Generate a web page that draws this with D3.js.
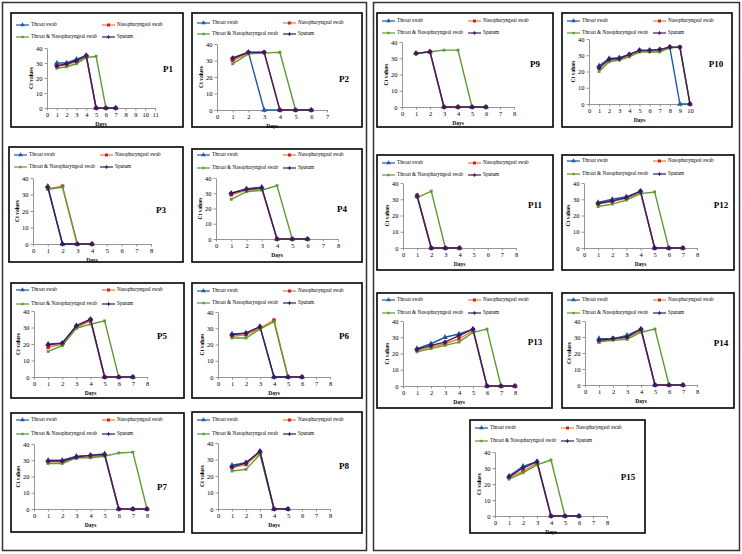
<!DOCTYPE html>
<html><head><meta charset="utf-8">
<script src="https://cdn.jsdelivr.net/npm/d3@7"></script>
<style>body{margin:0;background:#fff}svg{display:block}</style>
</head><body>
<script>
// ---------- DATA ----------
const seriesNames = ["Throat swab","Nasopharyngeal swab","Throat & Nasopharyngeal swab","Sputum"];
const panelNames = ["P1","P2","P3","P4","P5","P6","P7","P8","P9","P10","P11","P12","P13","P14","P15"];
const xMaxDays = [11,7,8,8,8,8,8,8,8,10,8,8,8,8,8];
const yTicks = [0,10,20,30,40];
// Ct values per panel, day 1..n
const throatSwab = [
  [30,30,32.5,35,0,0,0],
  [31,35,0,0,0,0],
  [35,0,0,0],
  [30,33,34,0,0,0],
  [20,20.5,31,35,0,0,0],
  [26.5,27,31,0,0,0],
  [30,30,32.5,33,34,0,0,0],
  [26.5,28,35,0,0],
  [33,34,0,0,0,0],
  [23.5,28,28.5,30.5,33,33,33.5,35,0,0],
  [32,0,0,0],
  [28,30,31.5,35,0,0,0],
  [23,26,30,32,35,0,0,0],
  [29,29,31,35,0,0,0],
  [25,31,34,0,0,0]
];
const nasoSwab = [
  [28,29,31,34,0,0,0],
  [30,34.5,35,0,0,0],
  [33.5,35,0,0],
  [29,32,33,0,0,0],
  [18,20,30,34,0,0,0],
  [25,26,30,35,0,0],
  [29,29,31.5,32,33,0,0,0],
  [25,27,34,0,0],
  [33,34,0,0,0,0],
  [22,27,27.5,30,32.5,32.5,33,35,35,0],
  [32.5,0,0,0],
  [27,28.5,30.5,34,0,0,0],
  [22,24,26,29,34,0,0,0],
  [27,29,29.5,34,0,0,0],
  [24,28,33,0,0,0]
];
const throatNasoSwab = [
  [26.5,27.5,29.5,33.5,34.5,0,0],
  [28,34,34.5,35,0,0],
  [33,34.5,0,0],
  [26,31,32,35,0,0],
  [15.5,19,29.5,32,34,0,0],
  [24,24,29.5,34,0,0],
  [28,28,31.5,31.5,32.5,34.5,35,0],
  [23,24,33,0,0],
  [33,34,35,35,0,0],
  [20,26,27,29,32,32,32,34.5,35,0],
  [31,35,0,0],
  [25.5,27,29.5,33.5,34.5,0,0],
  [21,23,25,27,33,35,0,0],
  [27,28,28.5,33,35,0,0],
  [23,27,32,35,0,0]
];
const sputum = [
  [28,29.5,31.5,35,0,0,0],
  [31.5,35,35,0,0,0],
  [34.5,0,0,0],
  [30,32.5,33.5,0,0,0],
  [19.5,20.5,31,35,0,0,0],
  [26,27,31,0,0,0],
  [29.5,29.5,32,33,33.5,0,0,0],
  [25.5,28,35,0,0],
  [33,34,0,0,0,0],
  [22.5,27.5,28,30.5,33,33,33.5,35,35,0],
  [32,0,0,0],
  [27.5,29,31,35,0,0,0],
  [22.5,25,27,31,35,0,0,0],
  [28,29,30,35,0,0,0],
  [24.5,30,34,0,0,0]
];
const allSeries = [throatSwab, nasoSwab, throatNasoSwab, sputum];

// ---------- LAYOUT ----------
// box [x,y,w,h], plot [x0,x1,yTop,yBot], label [x,y], legend rows [y1,y2]
const layout = [
  {box:[11,13,172,114], plot:[47,155,48,108], lab:[168,70], leg:[25,37]},
  {box:[192,13,170,114], plot:[217,327,44,110], lab:[344,80], leg:[23,34]},
  {box:[9,147,174,115], plot:[33,151,178,244], lab:[161,211], leg:[155,167]},
  {box:[192,149,170,113], plot:[216,338,178,239], lab:[342,210], leg:[155,168]},
  {box:[11,283,173,115], plot:[34,147,311,377], lab:[162,337], leg:[290,304]},
  {box:[192,283,170,115], plot:[218,330,312,377], lab:[344,337], leg:[291,303]},
  {box:[11,413,173,119], plot:[34,147,444,509], lab:[162,488], leg:[420,434]},
  {box:[192,412,170,121], plot:[218,330,443,509], lab:[344,467], leg:[420,434]},
  {box:[377,13,176,114], plot:[402,514,42,107], lab:[535,65], leg:[21,33]},
  {box:[562,13,170,114], plot:[589,690,39,104], lab:[716,65], leg:[21,33]},
  {box:[377,155,176,115], plot:[403,516,183,248], lab:[535,206], leg:[163,175]},
  {box:[562,155,172,115], plot:[584,697,183,248], lab:[721,206], leg:[161,174]},
  {box:[377,293,175,115], plot:[403,515,321,386], lab:[535,343], leg:[300,313]},
  {box:[562,293,172,115], plot:[585,697,321,385], lab:[721,344], leg:[300,313]},
  {box:[470,420,175,113], plot:[495,607,452,516], lab:[628,478], leg:[428,441]}
];
const lineColors = ["#1f5aa6","#f07a2a","#5e9a34","#3d1a63"];
const markColors = ["#1f5aa6","#d0202a","#5e9a34","#3d1a63"];
const markTypes = [d3.symbolTriangle, d3.symbolSquare, d3.symbolSquare, d3.symbolCross];
const markSizes = [14, 13, 8, 9];

const svg = d3.select("body").append("svg").attr("width",742).attr("height",554);
const font = "'Liberation Serif','Times New Roman',serif";

// outer frames
svg.append("rect").attr("x",2.5).attr("y",2.5).attr("width",364).attr("height",548)
  .attr("fill","none").attr("stroke","#333").attr("stroke-width",1.5);
svg.append("rect").attr("x",373.5).attr("y",2.5).attr("width",366).attr("height",548)
  .attr("fill","none").attr("stroke","#333").attr("stroke-width",1.5);

layout.forEach((L,i)=>{
  const g = svg.append("g");
  const [bx,by,bw,bh] = L.box;
  g.append("rect").attr("x",bx).attr("y",by).attr("width",bw).attr("height",bh)
    .attr("fill","#fff").attr("stroke","#000").attr("stroke-width",1.6);
  const [x0,x1,yT,yB] = L.plot;
  const x = d3.scaleLinear().domain([0,xMaxDays[i]]).range([x0,x1]);
  const y = d3.scaleLinear().domain([0,40]).range([yB,yT]);

  const xa = g.append("g").attr("transform",`translate(0,${yB})`)
    .call(d3.axisBottom(x).tickValues(d3.range(0,xMaxDays[i]+1)).tickSize(2.5).tickSizeOuter(0).tickPadding(2).tickFormat(d3.format("d")));
  const ya = g.append("g").attr("transform",`translate(${x0},0)`)
    .call(d3.axisLeft(y).tickValues(yTicks).tickSize(2.5).tickSizeOuter(0).tickPadding(2));
  [xa,ya].forEach(a=>{
    a.selectAll("path,line").attr("stroke","#8a8a8a").attr("stroke-width",0.9);
    a.selectAll("text").attr("font-family",font).attr("font-size",6.5).attr("fill","#000");
  });

  g.append("text").attr("x",(x0+x1)/2).attr("y",yB+17.5).attr("text-anchor","middle")
    .attr("font-family",font).attr("font-size",5.5).attr("font-weight","bold").text("Days");
  g.append("text").attr("transform",`translate(${x0-14},${(yT+yB)/2}) rotate(-90)`)
    .attr("text-anchor","middle").attr("font-family",font).attr("font-size",5.5).attr("font-weight","bold").text("Ct values");
  g.append("text").attr("x",L.lab[0]).attr("y",L.lab[1]).attr("text-anchor","middle").attr("dominant-baseline","middle")
    .attr("font-family",font).attr("font-size",9).attr("font-weight","bold").text(panelNames[i]);

  // series
  allSeries.forEach((S,k)=>{
    const vals = S[i];
    const pts = vals.map((v,j)=>[j+1,v]);
    g.append("path").datum(pts)
      .attr("d",d3.line().x(d=>x(d[0])).y(d=>y(d[1])))
      .attr("fill","none").attr("stroke",lineColors[k]).attr("stroke-width",1.4);
    g.selectAll(null).data(pts).enter().append("path")
      .attr("transform",d=>`translate(${x(d[0])},${y(d[1])})`)
      .attr("d",d3.symbol().type(markTypes[k]).size(markSizes[k]))
      .attr("fill",markColors[k]).attr("stroke",k===3?markColors[k]:"none").attr("stroke-width",0.6);
  });

  // legend
  seriesNames.forEach((name,k)=>{
    const col = k%2, row = Math.floor(k/2);
    const lx = bx + (col===0?5:91);
    const ly = L.leg[row];
    g.append("line").attr("x1",lx).attr("x2",lx+13).attr("y1",ly).attr("y2",ly)
      .attr("stroke",lineColors[k]).attr("stroke-width",1.2);
    g.append("path").attr("transform",`translate(${lx+6.5},${ly})`)
      .attr("d",d3.symbol().type(markTypes[k]).size(markSizes[k]*0.7))
      .attr("fill",markColors[k]);
    g.append("text").attr("x",lx+15).attr("y",ly).attr("dominant-baseline","middle")
      .attr("font-family",font).attr("font-size",5.2).text(name);
  });
});
</script>
</body></html>
